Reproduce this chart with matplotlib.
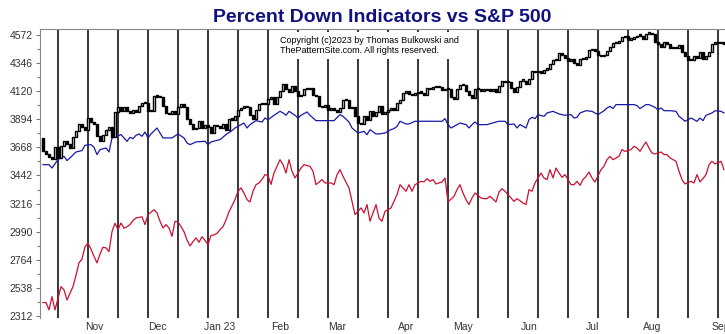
import matplotlib
matplotlib.use("Agg")
import matplotlib.pyplot as plt
import numpy as np

plt.rcParams['font.family'] = ['Liberation Sans', 'DejaVu Sans']

# S&P 500 daily closes, one list per month (trading days only)
spx_prev = 3744.52
spx_oct = [3639.66, 3612.39, 3588.84, 3577.03, 3669.91, 3583.07, 3677.95, 3719.98, 3695.16,
           3665.78, 3752.75, 3797.34, 3859.11, 3830.60, 3807.30, 3901.06, 3871.98]
spx_nov = [3856.10, 3759.69, 3719.89, 3770.55, 3806.80, 3828.11, 3748.57, 3956.37, 3992.93,
           3957.25, 3991.73, 3958.79, 3946.56, 3965.34, 3949.94, 4003.58, 4027.26, 4026.12,
           3963.94, 3957.63, 4080.11]
spx_dec = [4076.57, 4071.70, 3998.84, 3941.26, 3933.92, 3963.51, 3934.38, 3990.56, 4019.65,
           3995.32, 3895.75, 3852.36, 3817.66, 3821.62, 3878.44, 3822.39, 3844.82, 3829.25,
           3783.22, 3849.28, 3839.50]
spx_jan = [3824.14, 3852.97, 3808.10, 3895.08, 3892.09, 3919.25, 3969.61, 3983.17, 3999.09,
           3990.97, 3928.86, 3898.85, 3972.61, 4019.81, 4016.95, 4016.22, 4060.43, 4070.56,
           4017.77, 4076.60]
spx_feb = [4119.21, 4179.76, 4136.48, 4111.08, 4164.00, 4117.86, 4081.50, 4090.46, 4137.29,
           4136.13, 4147.60, 4090.41, 4079.09, 3997.34, 3991.05, 4012.32, 3970.04, 3982.24,
           3970.15]
spx_mar = [3951.39, 3981.35, 4045.64, 4048.42, 3986.37, 3992.01, 3918.32, 3861.59, 3855.76,
           3919.29, 3891.93, 3960.28, 3916.64, 3951.57, 4002.87, 3936.97, 3948.72, 3970.99,
           3977.53, 3971.27, 4027.81, 4050.83, 4109.31]
spx_apr = [4124.51, 4100.60, 4090.38, 4105.02, 4109.11, 4108.94, 4091.95, 4146.22, 4137.64,
           4151.32, 4154.87, 4154.52, 4129.79, 4133.52, 4137.04, 4071.63, 4055.99, 4135.35,
           4169.48]
spx_may = [4167.87, 4119.58, 4090.75, 4061.22, 4136.25, 4138.12, 4119.17, 4137.64, 4130.62,
           4124.08, 4136.28, 4109.90, 4158.77, 4198.05, 4191.98, 4192.63, 4145.58, 4115.24,
           4151.28, 4205.45, 4205.52, 4179.83]
spx_jun = [4221.02, 4282.37, 4273.79, 4283.85, 4267.52, 4293.93, 4298.86, 4338.93, 4369.01,
           4372.59, 4425.84, 4409.59, 4388.71, 4365.69, 4381.89, 4348.33, 4328.82, 4378.41,
           4376.86, 4396.44, 4450.38]
spx_jul = [4455.59, 4446.82, 4411.59, 4398.95, 4409.53, 4439.26, 4472.16, 4510.04, 4505.42,
           4522.79, 4554.98, 4565.72, 4534.87, 4536.34, 4554.64, 4567.46, 4566.75, 4537.41,
           4582.23, 4588.96]
spx_aug = [4576.73, 4513.39, 4501.89, 4478.03, 4518.44, 4499.38, 4467.71, 4468.83, 4464.05,
           4489.72, 4437.86, 4404.33, 4370.36, 4369.71, 4399.77, 4387.55, 4436.01, 4376.31,
           4405.71, 4433.31, 4497.63, 4514.87, 4507.66]
spx_sep = [4515.77, 4496.83, 4465.48]

months = [spx_oct, spx_nov, spx_dec, spx_jan, spx_feb, spx_mar, spx_apr,
          spx_may, spx_jun, spx_jul, spx_aug, spx_sep]
month_names = ['Nov', 'Dec', 'Jan 23', 'Feb', 'Mar', 'Apr', 'May', 'Jun', 'Jul', 'Aug', 'Sep']

# indicator lines (trading day index, value on the price scale)
blue_day = [0, 2, 3, 5, 7, 8, 9, 11, 13, 14, 16, 17, 18, 19, 21, 22, 23, 24, 26, 27, 28, 29,
            30, 31, 32, 33, 34, 35, 36, 38, 39, 40, 43, 45, 47, 48, 49, 51, 54, 55, 56, 59,
            61, 63, 64, 66, 67, 68, 69, 71, 73, 74, 75, 77, 79, 80, 81, 82, 84, 85, 86, 88,
            89, 91, 97, 99, 100, 102, 103, 105, 107, 108, 109, 111, 112, 114, 116, 117, 118,
            119, 121, 122, 124, 133, 134, 135, 136, 138, 139, 141, 142, 143, 144, 145, 148,
            151, 152, 154, 155, 157, 158, 159, 161, 162, 163, 164, 165, 167, 168, 170, 172,
            174, 176, 177, 178, 179, 181, 183, 185, 187, 188, 189, 190, 191, 197, 198, 199,
            201, 202, 204, 205, 206, 207, 209, 211, 212, 213, 214, 216, 217, 218, 219, 220,
            221, 223, 224, 226, 227]
blue_val = [3529, 3529, 3502, 3570, 3596, 3562, 3583, 3631, 3642, 3685, 3690, 3669, 3610, 3650,
            3663, 3631, 3744, 3749, 3771, 3744, 3717, 3749, 3738, 3765, 3776, 3757, 3792, 3744,
            3776, 3824, 3784, 3744, 3744, 3776, 3744, 3704, 3690, 3712, 3717, 3690, 3712, 3730,
            3771, 3803, 3824, 3851, 3864, 3824, 3851, 3883, 3872, 3904, 3890, 3926, 3958, 3945,
            3926, 3958, 3926, 3904, 3926, 3953, 3926, 3883, 3883, 3931, 3918, 3872, 3824, 3784,
            3797, 3770, 3811, 3776, 3776, 3784, 3811, 3819, 3837, 3878, 3856, 3856, 3878, 3878,
            3899, 3851, 3824, 3851, 3864, 3851, 3824, 3851, 3872, 3851, 3851, 3872, 3878, 3878,
            3851, 3856, 3824, 3851, 3824, 3891, 3910, 3899, 3931, 3918, 3945, 3958, 3937, 3926,
            3931, 3904, 3910, 3945, 3963, 3958, 3931, 3963, 3985, 3998, 3980, 4012, 4012, 4004,
            3980, 4012, 4012, 3990, 3971, 3985, 3963, 3963, 3958, 3918, 3899, 3878, 3904, 3891,
            3878, 3904, 3883, 3926, 3945, 3963, 3958, 3945]

red_day = [0, 1, 2, 3, 4, 5, 6, 7, 8, 10, 11, 12, 13, 14, 15, 16, 17, 18, 19, 20, 21, 22, 23,
           24, 25, 26, 27, 28, 29, 30, 31, 33, 34, 35, 37, 38, 39, 40, 41, 42, 43, 44, 45, 46,
           47, 48, 49, 50, 51, 52, 53, 54, 55, 56, 57, 58, 59, 60, 61, 62, 63, 64, 65, 66, 67,
           68, 69, 70, 71, 72, 73, 74, 75, 76, 77, 79, 80, 81, 82, 83, 84, 86, 87, 89, 90, 91,
           93, 94, 96, 97, 98, 99, 100, 102, 103, 104, 106, 107, 108, 109, 110, 111, 112, 113,
           114, 116, 117, 118, 119, 120, 121, 122, 123, 124, 126, 127, 128, 129, 130, 131, 133,
           134, 135, 137, 138, 139, 140, 141, 142, 143, 144, 146, 147, 148, 149, 151, 152, 153,
           154, 156, 157, 158, 160, 161, 162, 163, 164, 166, 167, 168, 169, 170, 171, 172, 173,
           174, 176, 177, 178, 179, 180, 181, 182, 183, 184, 186, 187, 188, 189, 190, 191, 192,
           193, 194, 196, 197, 198, 199, 200, 201, 202, 203, 204, 206, 207, 208, 209, 210, 211,
           212, 213, 214, 216, 217, 218, 219, 220, 221, 222, 223, 224, 226, 227]
red_val = [2420, 2420, 2361, 2468, 2361, 2455, 2548, 2522, 2441, 2548, 2640, 2740, 2770, 2870,
           2897, 2850, 2792, 2739, 2810, 2865, 2860, 2830, 2990, 3058, 3007, 3060, 3018, 3030,
           3047, 3080, 3100, 3110, 3047, 3127, 3167, 3141, 3074, 3020, 3047, 3020, 2953, 3074,
           3068, 3031, 2990, 2924, 2876, 2910, 2940, 2905, 2950, 2920, 2886, 2960, 2964, 2977,
           3007, 3030, 3085, 3150, 3200, 3248, 3315, 3342, 3301, 3248, 3229, 3315, 3368, 3382,
           3409, 3449, 3440, 3370, 3462, 3569, 3529, 3462, 3569, 3476, 3422, 3502, 3529, 3516,
           3476, 3368, 3409, 3382, 3382, 3368, 3449, 3489, 3435, 3342, 3234, 3127, 3181, 3141,
           3208, 3074, 3141, 3208, 3100, 3074, 3154, 3181, 3234, 3288, 3368, 3342, 3315, 3368,
           3315, 3368, 3395, 3390, 3417, 3395, 3409, 3374, 3390, 3422, 3229, 3275, 3328, 3368,
           3301, 3248, 3208, 3261, 3301, 3261, 3256, 3256, 3275, 3229, 3310, 3336, 3315, 3261,
           3234, 3256, 3221, 3208, 3328, 3315, 3382, 3462, 3422, 3409, 3489, 3422, 3502, 3462,
           3427, 3449, 3368, 3368, 3395, 3363, 3409, 3435, 3470, 3422, 3390, 3489, 3516, 3569,
           3596, 3569, 3583, 3596, 3650, 3636, 3650, 3677, 3663, 3636, 3677, 3711, 3663, 3623,
           3615, 3631, 3610, 3610, 3583, 3569, 3556, 3476, 3409, 3374, 3395, 3382, 3449, 3390,
           3417, 3449, 3529, 3556, 3535, 3556, 3489]

y_ticks = [2312, 2538, 2764, 2990, 3216, 3442, 3668, 3894, 4120, 4346, 4572]

closes = np.array(sum(months, []))
opens = np.concatenate([[spx_prev], closes[:-1]])
days = np.arange(len(closes))
month_start = np.cumsum([len(m) for m in months])[:-1]

fig = plt.figure(figsize=(7.25, 3.34), dpi=100)
ax = fig.add_axes([40 / 725, 16 / 334, 685 / 725, 289 / 334])

# vertical grid every ten trading days
for d in range(5, len(closes), 10):
    ax.axvline(d, color='black', lw=1.1, zorder=1)

ax.plot(red_day, red_val, color='#cc1030', lw=0.9, zorder=2)
ax.plot(blue_day, blue_val, color='#1818a8', lw=0.9, zorder=2)

# candlesticks: white body when up, black when down
low = np.minimum(opens, closes)
height = np.maximum(np.abs(closes - opens), 10)
up = closes >= opens
ax.bar(days[up], height[up], bottom=low[up], width=0.6, color='white',
       edgecolor='black', linewidth=1.0, zorder=3)
ax.bar(days[~up], height[~up], bottom=low[~up], width=0.6, color='black',
       edgecolor='black', linewidth=1.0, zorder=3)

ax.set_xlim(-1, 227.33)
ax.set_ylim(2296, 4620)

ax.set_yticks(y_ticks)
ax.set_yticks([t + 113 for t in y_ticks[:-1]], minor=True)
ax.set_xticks(month_start, month_names)
ax.tick_params(axis='y', which='major', length=3, width=0.8, color='#777',
               labelsize=7.5, labelcolor='#333', pad=2)
ax.tick_params(axis='y', which='minor', length=2, width=0.8, color='#777')
ax.tick_params(axis='x', length=0, labelsize=7.5, labelcolor='#333', pad=3)

for side in ['bottom', 'right']:
    ax.spines[side].set_visible(False)
for side in ['top', 'left']:
    ax.spines[side].set_color('#888')
    ax.spines[side].set_linewidth(0.8)

ax.text(0.35, 0.975, "Copyright (c)2023 by Thomas Bulkowski and\nThePatternSite.com. All rights reserved.",
        transform=ax.transAxes, fontsize=6.5, ha='left', va='top', linespacing=1.12,
        bbox=dict(facecolor='white', edgecolor='none', pad=3), zorder=5)

fig.text(382 / 725, 1 - 17 / 334, "Percent Down Indicators vs S&P 500", ha='center',
         va='center', fontsize=14, fontweight='bold', color='#101080')

fig.savefig("out.png", dpi=100)
